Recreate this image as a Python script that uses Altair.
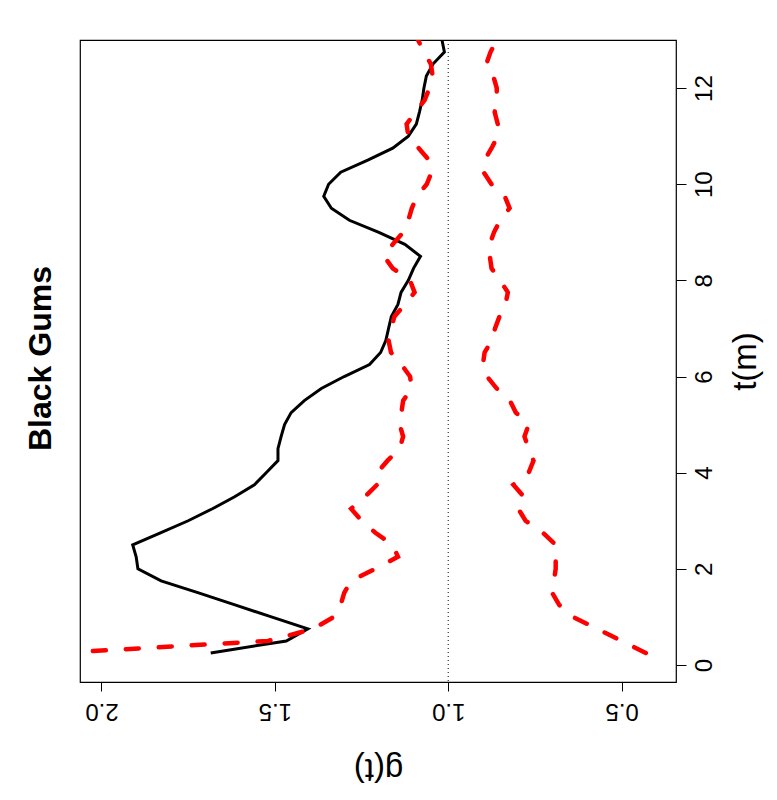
import altair as alt
import pandas as pd

# distance values t (m)
t_vals = [0.25, 0.5, 0.75, 1.0, 1.25, 1.5, 1.75, 2.0, 2.25, 2.5, 2.75, 3.0,
          3.25, 3.5, 3.75, 4.0, 4.25, 4.5, 4.75, 5.0, 5.25, 5.5, 5.75, 6.0,
          6.25, 6.5, 6.75, 7.0, 7.25, 7.5, 7.75, 8.0, 8.25, 8.5, 8.75, 9.0,
          9.25, 9.5, 9.75, 10.0, 10.25, 10.5, 10.75, 11.0, 11.25, 11.5, 11.75,
          12.0, 12.25, 12.5, 12.75, 13.0]

# observed pair correlation g(t)
obs_g = [1.685, 1.467, 1.405, 1.51, 1.615, 1.72, 1.828, 1.895, 1.90, 1.91, 1.83, 1.75,
         1.68, 1.616, 1.559, 1.525, 1.491, 1.491, 1.482, 1.472, 1.453, 1.415, 1.366, 1.30,
         1.227, 1.195, 1.18, 1.172, 1.164, 1.145, 1.136, 1.115, 1.10, 1.08, 1.125, 1.20,
         1.285, 1.337, 1.359, 1.345, 1.31, 1.232, 1.16, 1.115, 1.092, 1.083, 1.075,
         1.07, 1.063, 1.044, 1.011, 1.018]

# upper simulation envelope
hi_g = [2.12, 1.52, 1.39, 1.33, 1.31, 1.30, 1.28, 1.21, 1.145, 1.16, 1.21, 1.25,
        1.28, 1.24, 1.205, 1.205, 1.175, 1.14, 1.13, 1.14, 1.135, 1.13, 1.105, 1.11,
        1.135, 1.165, 1.172, 1.165, 1.155, 1.125, 1.097, 1.11, 1.16, 1.185, 1.16, 1.13,
        1.115, 1.105, 1.09, 1.062, 1.048, 1.055, 1.085, 1.115, 1.12, 1.095, 1.068,
        1.054, 1.045, 1.05, 1.07, 1.087]

# lower simulation envelope
lo_g = [0.43, 0.50, 0.57, 0.64, 0.68, 0.70, 0.695, 0.69, 0.69, 0.69, 0.727, 0.777,
        0.798, 0.782, 0.812, 0.768, 0.754, 0.768, 0.780, 0.768, 0.805, 0.822, 0.86, 0.888,
        0.90, 0.895, 0.875, 0.865, 0.852, 0.835, 0.828, 0.85, 0.875, 0.88, 0.88, 0.868,
        0.85, 0.823, 0.837, 0.875, 0.898, 0.895, 0.875, 0.857, 0.857, 0.866, 0.86,
        0.86, 0.87, 0.89, 0.878, 0.86]

t_ticks = [0, 2, 4, 6, 8, 10, 12]
g_ticks = [0.5, 1.0, 1.5, 2.0]
ref_line = [1.0]
title_text = ["Black Gums"]

df_obs = pd.DataFrame({"t": t_vals, "g": obs_g})
df_hi = pd.DataFrame({"t": t_vals, "g": hi_g})
df_lo = pd.DataFrame({"t": t_vals, "g": lo_g})
df_ref = pd.DataFrame({"g": ref_line})
df_title = pd.DataFrame({"label": title_text})

W, H = 596, 642
FONT = "Liberation Sans"

xscale = alt.Scale(domain=[0.343, 2.062], reverse=True, nice=False, zero=False)
yscale = alt.Scale(domain=[-0.354, 13.0], nice=False, zero=False)

xaxis = alt.Axis(values=g_ticks, format=".1f", labelAngle=180, labelAlign="center",
                 labelBaseline="bottom", tickSize=9, labelPadding=7, labelFontSize=24,
                 title="g(t)", titleAngle=180, titleFontSize=33, titleFontWeight="normal",
                 titleX=W / 2, titleY=86, titleBaseline="middle", titleAlign="center",
                 domain=False, grid=False, labelFlush=False, labelOverlap=False)
yaxis = alt.Axis(orient="right", values=t_ticks, format="d", labelAngle=270,
                 labelAlign="center", labelBaseline="top", tickSize=10, labelPadding=6,
                 labelFontSize=24, title="t(m)", titleAngle=270, titleFontSize=33,
                 titleFontWeight="normal", titleX=69, titleY=H / 2,
                 titleBaseline="middle", titleAlign="center", domain=False, grid=False,
                 labelFlush=False, labelOverlap=False)

X = alt.X("g:Q", scale=xscale, axis=xaxis)
Y = alt.Y("t:Q", scale=yscale, axis=yaxis)

rule = alt.Chart(df_ref).mark_rule(color="black", strokeWidth=1, strokeDash=[1, 3]).encode(x=X)

obs = alt.Chart(df_obs).mark_line(color="black", strokeWidth=3, clip=True).encode(
    x=X, y=Y, order="t:Q")
hi = alt.Chart(df_hi).mark_line(color="#ff0000", strokeWidth=4.5, strokeDash=[13, 20],
                                strokeCap="round", clip=True).encode(x=X, y=Y, order="t:Q")
lo = alt.Chart(df_lo).mark_line(color="#ff0000", strokeWidth=4.5, strokeDash=[13, 20],
                                strokeCap="round", clip=True).encode(x=X, y=Y, order="t:Q")

ttl = alt.Chart(df_title).mark_text(angle=270, fontSize=32, fontWeight="bold", font=FONT,
                                    align="center", baseline="middle", color="black").encode(
    x=alt.value(-39.5), y=alt.value(318.5), text="label:N")

chart = alt.layer(rule, obs, hi, lo, ttl).properties(
    width=W, height=H,
    padding={"left": 72, "top": 32, "right": 90, "bottom": 110},
    autosize=alt.AutoSizeParams(type="none"),
).configure_view(stroke="black", strokeWidth=1.2).configure_axis(
    labelColor="black", tickColor="black", titleColor="black",
    labelFont=FONT, titleFont=FONT, tickWidth=1
).configure(font=FONT) if False else alt.layer(rule, obs, hi, lo, ttl).properties(
    width=W, height=H,
    padding={"left": 72, "top": 32, "right": 90, "bottom": 110},
    autosize=alt.AutoSizeParams(type="none"),
).configure(font=FONT).configure_view(stroke="black", strokeWidth=1.2).configure_axis(
    labelColor="black", tickColor="black", titleColor="black",
    labelFont=FONT, titleFont=FONT, tickWidth=1
)

chart.save("out.html", embed_options={"renderer": "svg", "actions": False})
